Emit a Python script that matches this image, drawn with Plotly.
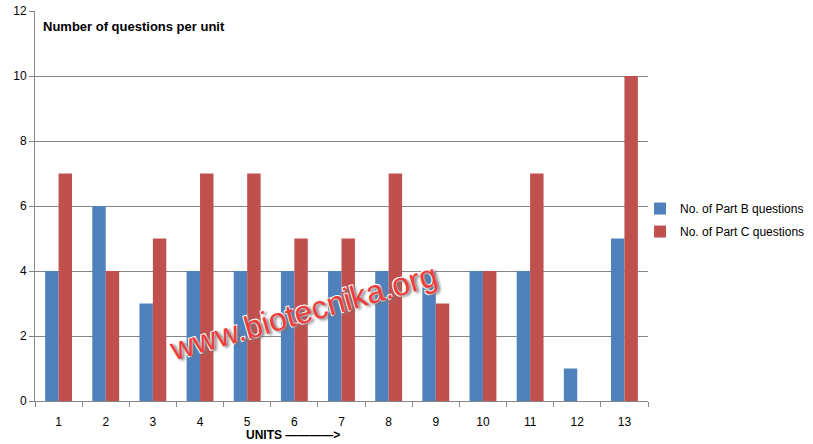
import plotly.graph_objects as go

units = ["1", "2", "3", "4", "5", "6", "7", "8", "9", "10", "11", "12", "13"]
part_b = [4, 6, 3, 4, 4, 4, 4, 4, 4, 4, 4, 1, 5]
part_c = [7, 4, 5, 7, 7, 5, 5, 7, 3, 4, 7, 0, 10]
y_ticks = [0, 2, 4, 6, 8, 10, 12]

FONT = "Liberation Sans, Arial, sans-serif"

fig = go.Figure()
fig.add_trace(go.Bar(x=units, y=part_b, name="No. of Part B questions", legendgroup="b",
                     marker=dict(color="#4F81BD", line=dict(width=0))))
fig.add_trace(go.Bar(x=units, y=part_c, name="No. of Part C questions", legendgroup="c",
                     marker=dict(color="#C0504D", line=dict(width=0))))

fig.update_layout(
    width=813, height=444,
    margin=dict(l=35, r=165, t=11, b=43, autoexpand=False),
    paper_bgcolor="white", plot_bgcolor="white",
    barmode="group", bargap=0.43, bargroupgap=0,
    font=dict(family=FONT, size=12, color="black"),
    showlegend=True,
    legend=dict(x=0.987, y=0.464, xanchor="left", yanchor="middle",
                font=dict(family=FONT, size=12, color="black"),
                itemwidth=30, tracegroupgap=4, bgcolor="rgba(0,0,0,0)"),
    xaxis=dict(type="category", showline=True, linecolor="#868686", linewidth=1,
               ticks="outside", tickson="boundaries", ticklen=5, tickcolor="#868686",
               showgrid=False, ticklabelstandoff=10, automargin=False,
               tickfont=dict(family=FONT, size=12, color="black")),
    yaxis=dict(range=[0, 12], tickvals=y_ticks, showline=True, linecolor="#868686",
               linewidth=1, ticks="outside", ticklen=5, tickcolor="#868686",
               showgrid=True, gridcolor="#868686", gridwidth=1, zeroline=False,
               automargin=False, tickfont=dict(family=FONT, size=12, color="black")),
    annotations=[
        dict(text="<b>Number of questions per unit</b>", xref="paper", yref="paper",
             x=0.009, y=0.959, xanchor="left", yanchor="middle", showarrow=False,
             font=dict(family=FONT, size=13, color="black")),
        dict(text="<b>UNITS \u2014\u2014\u2014\u2014></b>", xref="paper", yref="paper",
             x=0.343, y=-0.088, xanchor="left", yanchor="middle", showarrow=False,
             borderpad=0, font=dict(family=FONT, size=12, color="black")),
        dict(text="www.biotecnika.org", xref="paper", yref="paper",
             x=0.438, y=0.228, xanchor="center", yanchor="middle", showarrow=False,
             textangle=-16,
             font=dict(family=FONT, size=32, color="#F03C3C",
                       shadow="2px 2px 3px #777, -1px -1px 0 white, 1px -1px 0 white, -1px 1px 0 white")),
    ],
)

fig.write_html("out.html", config={"displayModeBar": False},
               post_script="document.body.style.margin='0';")
